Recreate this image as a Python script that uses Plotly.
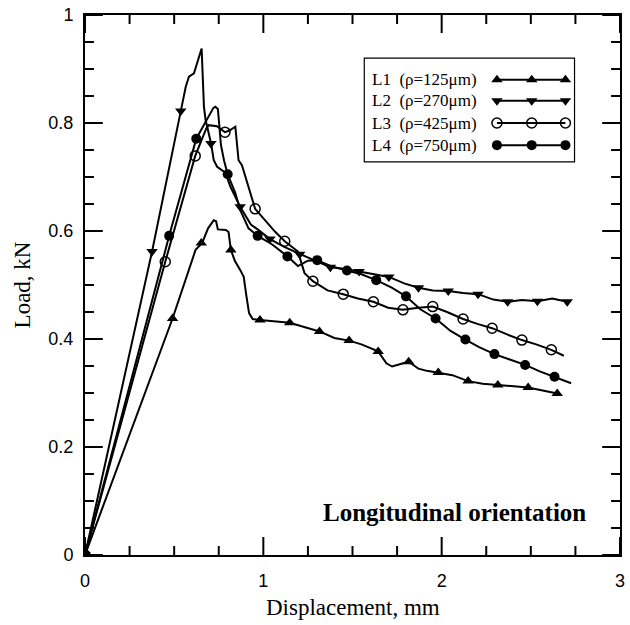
import plotly.graph_objects as go

# ---- load–displacement curves (mm, kN) ----
L1_x = [0, 0.38, 0.491, 0.62, 0.657, 0.69, 0.722, 0.735, 0.745, 0.79, 0.805, 0.818, 0.84, 0.87, 0.89,
        0.905, 0.92, 0.94, 0.981, 1.148, 1.2, 1.315, 1.398, 1.481, 1.55, 1.644, 1.69, 1.722, 1.815,
        1.87, 1.917, 1.981, 2.06, 2.148, 2.23, 2.315, 2.4, 2.485, 2.648]
L1_y = [0, 0.336, 0.438, 0.565, 0.578, 0.605, 0.620, 0.618, 0.603, 0.602, 0.598, 0.565, 0.545, 0.528, 0.515,
        0.48, 0.448, 0.437, 0.435, 0.430, 0.425, 0.414, 0.402, 0.397, 0.39, 0.377, 0.355, 0.349, 0.358,
        0.345, 0.341, 0.338, 0.333, 0.322, 0.317, 0.315, 0.312, 0.310, 0.299]
L1_mx = [0, 0.491, 0.652, 0.818, 0.981, 1.148, 1.315, 1.481, 1.644, 1.815, 1.981, 2.148, 2.315, 2.485, 2.648]
L1_my = [0, 0.438, 0.578, 0.565, 0.435, 0.430, 0.414, 0.397, 0.377, 0.358, 0.338, 0.322, 0.315, 0.310, 0.299]

L2_x = [0, 0.376, 0.537, 0.565, 0.583, 0.611, 0.654, 0.663, 0.667, 0.676, 0.689, 0.707, 0.722, 0.741,
        0.787, 0.815, 0.870, 0.93, 0.972, 1.037, 1.12, 1.204, 1.29, 1.376, 1.45, 1.537, 1.62, 1.704,
        1.79, 1.870, 1.95, 2.037, 2.12, 2.204, 2.29, 2.370, 2.45, 2.537, 2.62, 2.704]
L2_y = [0, 0.562, 0.822, 0.867, 0.886, 0.892, 0.938, 0.88, 0.830, 0.806, 0.787, 0.762, 0.731, 0.719,
        0.708, 0.682, 0.645, 0.612, 0.602, 0.585, 0.570, 0.557, 0.545, 0.533, 0.530, 0.525, 0.520, 0.515,
        0.503, 0.495, 0.490, 0.489, 0.485, 0.483, 0.473, 0.469, 0.472, 0.470, 0.475, 0.469]
L2_mx = [0, 0.376, 0.537, 0.706, 0.870, 1.037, 1.204, 1.376, 1.537, 1.704, 1.870, 2.037, 2.204, 2.370, 2.537, 2.704]
L2_my = [0, 0.562, 0.822, 0.762, 0.645, 0.585, 0.557, 0.533, 0.525, 0.515, 0.495, 0.489, 0.483, 0.469, 0.470, 0.469]

L3_x = [0, 0.450, 0.618, 0.680, 0.694, 0.74, 0.785, 0.81, 0.843, 0.852, 0.861, 0.880, 0.935, 0.954,
        1.009, 1.065, 1.120, 1.194, 1.231, 1.278, 1.36, 1.448, 1.53, 1.617, 1.70, 1.783, 1.87, 1.950,
        2.03, 2.120, 2.2, 2.283, 2.37, 2.45, 2.53, 2.615, 2.685]
L3_y = [0, 0.543, 0.739, 0.790, 0.796, 0.794, 0.783, 0.786, 0.793, 0.765, 0.731, 0.722, 0.664, 0.641,
        0.620, 0.599, 0.581, 0.562, 0.522, 0.507, 0.490, 0.483, 0.475, 0.469, 0.458, 0.454, 0.458, 0.460,
        0.450, 0.437, 0.428, 0.420, 0.408, 0.398, 0.390, 0.380, 0.369]
L3_mx = [0, 0.450, 0.618, 0.785, 0.954, 1.120, 1.278, 1.448, 1.617, 1.783, 1.950, 2.120, 2.283, 2.45, 2.615]
L3_my = [0, 0.543, 0.739, 0.783, 0.641, 0.581, 0.507, 0.483, 0.469, 0.454, 0.460, 0.437, 0.420, 0.398, 0.380]

L4_x = [0, 0.472, 0.624, 0.672, 0.70, 0.72, 0.731, 0.745, 0.752, 0.762, 0.78, 0.80, 0.843, 0.87,
        0.917, 0.968, 1.05, 1.135, 1.194, 1.25, 1.302, 1.38, 1.469, 1.55, 1.633, 1.72, 1.80, 1.88,
        1.966, 2.05, 2.133, 2.21, 2.296, 2.38, 2.468, 2.55, 2.633, 2.726]
L4_y = [0, 0.591, 0.771, 0.800, 0.815, 0.828, 0.830, 0.826, 0.80, 0.76, 0.73, 0.705, 0.670, 0.639,
        0.605, 0.591, 0.575, 0.553, 0.535, 0.545, 0.546, 0.535, 0.527, 0.520, 0.509, 0.495, 0.479, 0.455,
        0.438, 0.415, 0.399, 0.385, 0.372, 0.362, 0.352, 0.340, 0.330, 0.318]
L4_mx = [0, 0.472, 0.624, 0.80, 0.968, 1.135, 1.302, 1.469, 1.633, 1.80, 1.966, 2.133, 2.296, 2.468, 2.633]
L4_my = [0, 0.591, 0.771, 0.705, 0.591, 0.553, 0.546, 0.527, 0.509, 0.479, 0.438, 0.399, 0.372, 0.352, 0.330]

labels = ["L1  (\u03c1=125\u03bcm)", "L2  (\u03c1=270\u03bcm)", "L3  (\u03c1=425\u03bcm)", "L4  (\u03c1=750\u03bcm)"]

x_ticks = [0, 1, 2, 3]
x_ticktext = ["0", "1", "2", "3"]
y_ticks = [0, 0.2, 0.4, 0.6, 0.8, 1.0]
y_ticktext = ["0", "0.2", "0.4", "0.6", "0.8", "1"]
x_minor = [i * 0.25 for i in range(13) if i % 4]
y_minor = [i * 0.05 for i in range(21) if i % 4]

X_RANGE = (0, 3)
Y_RANGE = (0, 1)
PLOT_W, PLOT_H = 540, 540          # plot-area size in px (630x625 page minus margins)

BLACK = "#000000"
series = [
    (L1_x, L1_y, L1_mx, L1_my, dict(symbol="triangle-up", size=10, color=BLACK)),
    (L2_x, L2_y, L2_mx, L2_my, dict(symbol="triangle-down", size=10, color=BLACK)),
    (L3_x, L3_y, L3_mx, L3_my, dict(symbol="circle-open", size=10, color=BLACK, line=dict(width=1.5, color=BLACK))),
    (L4_x, L4_y, L4_mx, L4_my, dict(symbol="circle", size=10, color=BLACK)),
]

fig = go.Figure()

# inward tick marks on all four sides, as one line trace broken by None gaps
x_unit = (X_RANGE[1] - X_RANGE[0]) / PLOT_W
y_unit = (Y_RANGE[1] - Y_RANGE[0]) / PLOT_H
tx, ty = [], []
for vals, length in ((x_ticks, 18), (x_minor, 9)):
    d = length * y_unit
    for v in vals:
        tx += [v, v, None, v, v, None]
        ty += [Y_RANGE[0], Y_RANGE[0] + d, None, Y_RANGE[1], Y_RANGE[1] - d, None]
for vals, length in ((y_ticks, 18), (y_minor, 9)):
    d = length * x_unit
    for v in vals:
        tx += [X_RANGE[0], X_RANGE[0] + d, None, X_RANGE[1], X_RANGE[1] - d, None]
        ty += [v, v, None, v, v, None]
fig.add_trace(go.Scatter(x=tx, y=ty, mode="lines", line=dict(color=BLACK, width=2),
                         cliponaxis=False, showlegend=False, hoverinfo="skip"))

for lx, ly, mx, my, mk in series:
    fig.add_trace(go.Scatter(x=lx, y=ly, mode="lines", line=dict(color=BLACK, width=2),
                             showlegend=False, hoverinfo="skip"))
    fig.add_trace(go.Scatter(x=mx, y=my, mode="markers", marker=mk, showlegend=False))

# ---- hand-built legend box (positions in axis units: x 0..3 mm, y 0..1 kN) ----
leg_rows = [0.880, 0.841, 0.800, 0.759]
leg_sample_x = [2.31, 2.505, 2.694]
for (lx, ly, mx, my, mk), ry, lab in zip(series, leg_rows, labels):
    fig.add_trace(go.Scatter(x=leg_sample_x, y=[ry] * 3, mode="lines+markers",
                             line=dict(color=BLACK, width=2), marker=mk,
                             showlegend=False, hoverinfo="skip"))
    fig.add_annotation(x=1.60, y=ry, xref="x", yref="y", text=lab, showarrow=False,
                       xanchor="left", yanchor="middle",
                       font=dict(family="Liberation Serif", size=17, color=BLACK))

fig.add_shape(type="rect", xref="x", yref="y", x0=1.566, x1=2.745, y0=0.728, y1=0.920,
              line=dict(color=BLACK, width=1.2), fillcolor="rgba(0,0,0,0)")

fig.add_annotation(x=2.82, y=0.078, xref="x", yref="y", text="<b>Longitudinal orientation</b>",
                   showarrow=False, xanchor="right", yanchor="middle",
                   font=dict(family="Liberation Serif", size=25, color=BLACK))

# axis titles
fig.add_annotation(x=0.5, y=-0.098, xref="paper", yref="paper", text="Displacement, mm",
                   showarrow=False, xanchor="center", yanchor="middle",
                   font=dict(family="Liberation Serif", size=23, color=BLACK))
fig.add_annotation(x=-0.117, y=0.5, xref="paper", yref="paper", text="Load, kN", textangle=-90,
                   showarrow=False, xanchor="center", yanchor="middle",
                   font=dict(family="Liberation Serif", size=23, color=BLACK))

fig.update_layout(
    width=630, height=625,
    margin=dict(l=85, r=5, t=15, b=70),
    paper_bgcolor="white", plot_bgcolor="white",
    xaxis=dict(range=list(X_RANGE), tickmode="array", tickvals=x_ticks, ticktext=x_ticktext,
               showline=True, linecolor=BLACK, linewidth=2, mirror=True,
               ticks="", ticklabelstandoff=8,
               showgrid=False, zeroline=False,
               tickfont=dict(family="Liberation Sans", size=18, color=BLACK)),
    yaxis=dict(range=list(Y_RANGE), tickmode="array", tickvals=y_ticks, ticktext=y_ticktext,
               showline=True, linecolor=BLACK, linewidth=2, mirror=True,
               ticks="", ticklabelstandoff=6,
               showgrid=False, zeroline=False,
               tickfont=dict(family="Liberation Sans", size=18, color=BLACK)),
)

fig.write_html("out.html")
